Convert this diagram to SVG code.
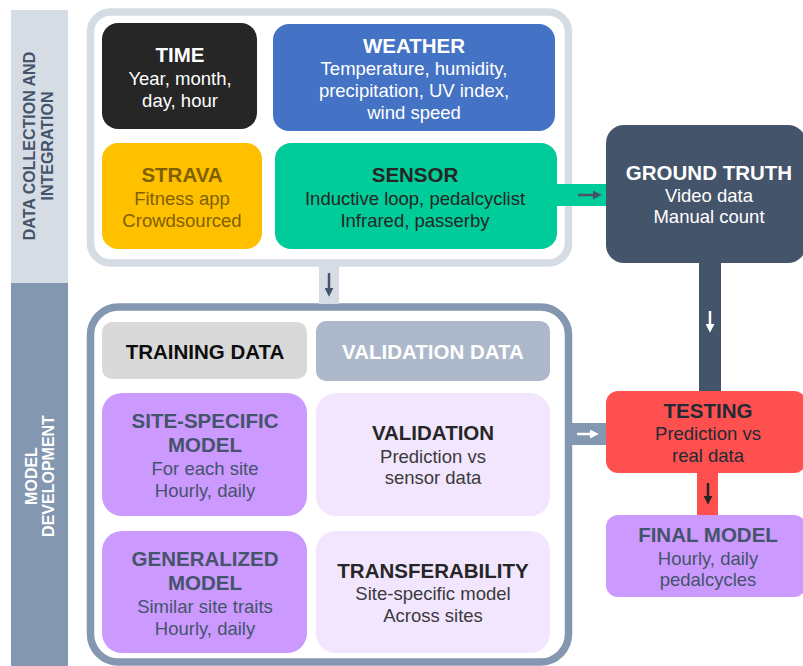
<svg xmlns="http://www.w3.org/2000/svg" width="803" height="666" viewBox="0 0 803 666">
  <style>
    text { font-family: "Liberation Sans", Arial, sans-serif; text-anchor: middle; }
    .t { font-size: 20.5px; font-weight: bold; }
    .b { font-size: 18.5px; }
    .band { font-size: 16px; font-weight: bold; }
    .frame { fill: #ffffff; stroke-width: 7.5; }
  </style>
  <defs>
    <marker id="headDark" viewBox="0 0 10 10" refX="3.5" refY="5" markerWidth="9" markerHeight="9" markerUnits="userSpaceOnUse" orient="auto">
      <path d="M0,0 L10,5 L0,10 z" fill="#44546a"/>
    </marker>
    <marker id="headWhite" viewBox="0 0 10 10" refX="3.5" refY="5" markerWidth="9" markerHeight="9" markerUnits="userSpaceOnUse" orient="auto">
      <path d="M0,0 L10,5 L0,10 z" fill="#ffffff"/>
    </marker>
    <marker id="headBlack" viewBox="0 0 10 10" refX="3.5" refY="5" markerWidth="9" markerHeight="9" markerUnits="userSpaceOnUse" orient="auto">
      <path d="M0,0 L10,5 L0,10 z" fill="#262626"/>
    </marker>
  </defs>

  <rect width="803" height="666" fill="#ffffff"/>

  <!-- stage bands on the left -->
  <g id="band-collection">
    <rect x="11" y="10" width="57" height="273" fill="#d6dce4"/>
    <text class="band" fill="#44546a" transform="translate(35,146) rotate(-90)">DATA COLLECTION AND</text>
    <text class="band" fill="#44546a" transform="translate(53,146) rotate(-90)">INTEGRATION</text>
  </g>
  <g id="band-development">
    <rect x="11" y="283" width="57" height="383" fill="#8497b0"/>
    <text class="band" fill="#ffffff" transform="translate(37,476) rotate(-90)">MODEL</text>
    <text class="band" fill="#ffffff" transform="translate(54,476) rotate(-90)">DEVELOPMENT</text>
  </g>

  <!-- stage frames -->
  <g id="frame-collection">
    <rect class="frame" x="90.5" y="12" width="478" height="251" rx="20" stroke="#d6dce4"/>
  </g>
  <g id="frame-development">
    <rect class="frame" x="90.5" y="307" width="478" height="355" rx="28" stroke="#8497b0"/>
  </g>

  <!-- connectors -->
  <g id="connectors">
    <rect x="319" y="266" width="20" height="38" fill="#d6dce4"/>
    <line x1="329" y1="273" x2="329" y2="291" stroke="#44546a" stroke-width="2.5" marker-end="url(#headDark)"/>

    <rect x="556" y="184" width="52" height="22" fill="#00cc99"/>
    <line x1="578" y1="195" x2="596" y2="195" stroke="#44546a" stroke-width="2.5" marker-end="url(#headDark)"/>

    <rect x="699" y="260" width="22" height="134" fill="#44546a"/>
    <line x1="710" y1="311" x2="710" y2="327" stroke="#ffffff" stroke-width="2.5" marker-end="url(#headWhite)"/>

    <rect x="571" y="423" width="37" height="22" fill="#8497b0"/>
    <line x1="577" y1="434" x2="593" y2="434" stroke="#ffffff" stroke-width="2.5" marker-end="url(#headWhite)"/>

    <rect x="697" y="470" width="21" height="47" fill="#ff5050"/>
    <line x1="708" y1="483" x2="708" y2="499" stroke="#262626" stroke-width="2.5" marker-end="url(#headBlack)"/>
  </g>

  <!-- data sources -->
  <g id="time">
    <rect x="102" y="23" width="155" height="106" rx="16" fill="#262626"/>
    <text class="t" x="180" y="62" fill="#ffffff">TIME</text>
    <text class="b" x="180" y="85" fill="#ffffff">Year, month,</text>
    <text class="b" x="180" y="107" fill="#ffffff">day, hour</text>
  </g>
  <g id="weather">
    <rect x="273" y="24" width="282" height="107" rx="16" fill="#4472c4"/>
    <text class="t" x="414" y="53" fill="#ffffff">WEATHER</text>
    <text class="b" x="414" y="75" fill="#ffffff">Temperature, humidity,</text>
    <text class="b" x="414" y="97" fill="#ffffff">precipitation, UV index,</text>
    <text class="b" x="414" y="119" fill="#ffffff">wind speed</text>
  </g>
  <g id="strava">
    <rect x="102" y="143" width="160" height="106" rx="16" fill="#ffc000"/>
    <text class="t" x="182" y="182" fill="#7f6000">STRAVA</text>
    <text class="b" x="182" y="205" fill="#7f6000">Fitness app</text>
    <text class="b" x="182" y="227" fill="#7f6000">Crowdsourced</text>
  </g>
  <g id="sensor">
    <rect x="275" y="143" width="282" height="106" rx="16" fill="#00cc99"/>
    <text class="t" x="415" y="182" fill="#262626">SENSOR</text>
    <text class="b" x="415" y="205" fill="#262626">Inductive loop, pedalcyclist</text>
    <text class="b" x="415" y="227" fill="#262626">Infrared, passerby</text>
  </g>

  <!-- reference and evaluation -->
  <g id="ground-truth">
    <rect x="606" y="125" width="200" height="138" rx="18" fill="#44546a"/>
    <text class="t" x="709" y="180" fill="#ffffff">GROUND TRUTH</text>
    <text class="b" x="709" y="202" fill="#ffffff">Video data</text>
    <text class="b" x="709" y="223" fill="#ffffff">Manual count</text>
  </g>
  <g id="testing">
    <rect x="606" y="391" width="200" height="82" rx="12" fill="#ff5050"/>
    <text class="t" x="708" y="418" fill="#222a35">TESTING</text>
    <text class="b" x="708" y="440" fill="#222a35">Prediction vs</text>
    <text class="b" x="708" y="462" fill="#222a35">real data</text>
  </g>
  <g id="final-model">
    <rect x="606" y="515" width="200" height="82" rx="12" fill="#cc99ff"/>
    <text class="t" x="708" y="542" fill="#44546a">FINAL MODEL</text>
    <text class="b" x="708" y="565" fill="#44546a">Hourly, daily</text>
    <text class="b" x="708" y="586" fill="#44546a">pedalcycles</text>
  </g>

  <!-- model development -->
  <g id="training-data">
    <rect x="102" y="322" width="205" height="57" rx="10" fill="#d9d9d9"/>
    <text class="t" x="205" y="359" fill="#0d0d0d">TRAINING DATA</text>
  </g>
  <g id="validation-data">
    <rect x="316" y="321" width="234" height="60" rx="10" fill="#adb9ca"/>
    <text class="t" x="433" y="359" fill="#ffffff">VALIDATION DATA</text>
  </g>
  <g id="site-specific-model">
    <rect x="102" y="393" width="205" height="123" rx="20" fill="#cc99ff"/>
    <text class="t" x="205" y="428" fill="#44546a">SITE-SPECIFIC</text>
    <text class="t" x="205" y="452" fill="#44546a">MODEL</text>
    <text class="b" x="205" y="475" fill="#44546a">For each site</text>
    <text class="b" x="205" y="497" fill="#44546a">Hourly, daily</text>
  </g>
  <g id="validation">
    <rect x="316" y="393" width="234" height="123" rx="20" fill="#f2e6ff"/>
    <text class="t" x="433" y="440" fill="#262626">VALIDATION</text>
    <text class="b" x="433" y="463" fill="#3a3a3a">Prediction vs</text>
    <text class="b" x="433" y="484" fill="#3a3a3a">sensor data</text>
  </g>
  <g id="generalized-model">
    <rect x="102" y="531" width="205" height="122" rx="20" fill="#cc99ff"/>
    <text class="t" x="205" y="566" fill="#44546a">GENERALIZED</text>
    <text class="t" x="205" y="590" fill="#44546a">MODEL</text>
    <text class="b" x="205" y="613" fill="#44546a">Similar site traits</text>
    <text class="b" x="205" y="635" fill="#44546a">Hourly, daily</text>
  </g>
  <g id="transferability">
    <rect x="316" y="531" width="234" height="122" rx="20" fill="#f2e6ff"/>
    <text class="t" x="433" y="578" fill="#262626">TRANSFERABILITY</text>
    <text class="b" x="433" y="600" fill="#3a3a3a">Site-specific model</text>
    <text class="b" x="433" y="622" fill="#3a3a3a">Across sites</text>
  </g>
</svg>
